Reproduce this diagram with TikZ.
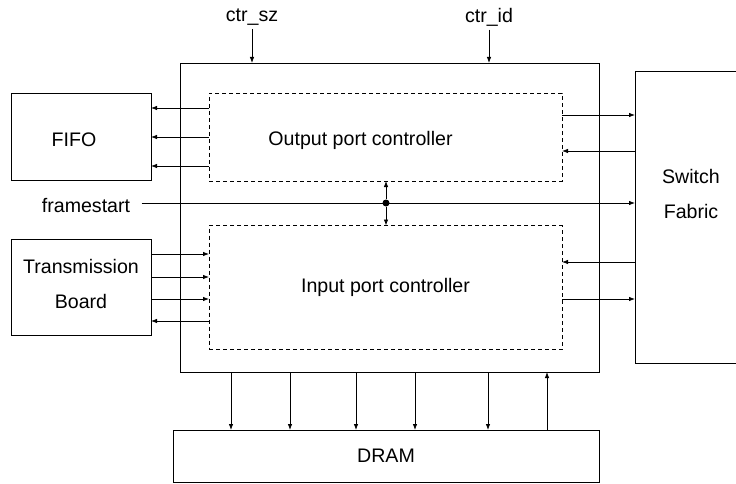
\documentclass[tikz,border=0pt]{standalone}
\usepackage{fontspec}
\setmainfont{Liberation Sans}
\usetikzlibrary{positioning,arrows.meta,calc}

\begin{document}
\begin{tikzpicture}[x=1pt,y=-1pt,font=\fontsize{19.6}{35}\selectfont]
  \tikzstyle{blk}=[draw,line width=0.9pt,inner sep=0pt,outer sep=0pt,align=center]
  \tikzstyle{ctl}=[draw,dash pattern=on 4pt off 3pt,line width=0.7pt,inner sep=0pt,outer sep=0pt]
  \tikzstyle{a}=[line width=0.8pt,-{Latex[length=6pt,width=4.5pt]}]
  \path[use as bounding box,clip] (0,0) rectangle (736,484);
  \node[blk,minimum width=419pt,minimum height=309pt] (m) at (389.5,217.5) {};
  \node[ctl,minimum width=353pt,minimum height=88pt,
    label={[xshift=-25pt,yshift=-3pt]center:Output port controller}] (opc) at (385.5,137) {};
  \node[ctl,minimum width=353pt,minimum height=124pt] (ipc) at (385.5,287.5) {Input port controller};
  \node[blk,minimum width=140pt,minimum height=87pt,
    label={[xshift=-7pt,yshift=-3pt]center:FIFO}] (fifo) at (81,137) {};
  \node[blk,minimum width=140pt,minimum height=96pt,
    label={[align=center,yshift=4pt]center:Transmission\\Board}] (tb) at (81,287.5) {};
  \node[blk,minimum width=112pt,minimum height=292pt] (sf) at (691,217) {};
  \node (sft) at (691,194) [align=center] {Switch\\Fabric};
  \node[blk,minimum width=426pt,minimum height=52pt] (d) at (386,456) {DRAM};
  \node (cs) at (252,17) {ctr\_sz};
  \node (ci) at (489,17) {ctr\_id};
  \node (fs) at (86,205.5) {framestart};
  \node[circle,fill,inner sep=0pt,minimum size=7pt] (dot) at (386,203) {};
  % top inputs
  \draw[a] (cs.south) -- (cs.south |- m.north);
  \draw[a] (ci.south) -- (ci.south |- m.north);
  % FIFO
  \foreach \s in {-29,0,29} \draw[a] ($(opc.west)+(0,\s)$) -- ($(fifo.east)+(0,\s)$);
  % transmission board
  \foreach \s in {-33.5,-10.5,11.5} \draw[a] ($(tb.east)+(0,\s)$) -- ($(ipc.west)+(0,\s)$);
  \draw[a] ($(ipc.west)+(0,33.5)$) -- ($(tb.east)+(0,33.5)$);
  % switch fabric
  \draw[a] ($(opc.east)+(0,-22)$) -- ($(opc.east -| sf.west)+(0,-22)$);
  \draw[a] ($(opc.east -| sf.west)+(0,14)$) -- ($(opc.east)+(0,14)$);
  \draw[a] ($(ipc.east -| sf.west)+(0,-25.5)$) -- ($(ipc.east)+(0,-25.5)$);
  \draw[a] ($(ipc.east)+(0,11.5)$) -- ($(ipc.east -| sf.west)+(0,11.5)$);
  % framestart
  \draw[a] ($(fs.east |- dot)+(8,0)$) -- (dot -| sf.west);
  \draw[a] (dot) -- (dot |- opc.south);
  \draw[a] (dot) -- (dot |- ipc.north);
  % DRAM
  \foreach \x in {231,290,356,415,488} \draw[a] (\x,0 |- m.south) -- (\x,0 |- d.north);
  \draw[a] (547,0 |- d.north) -- (547,0 |- m.south);
\end{tikzpicture}
\end{document}
